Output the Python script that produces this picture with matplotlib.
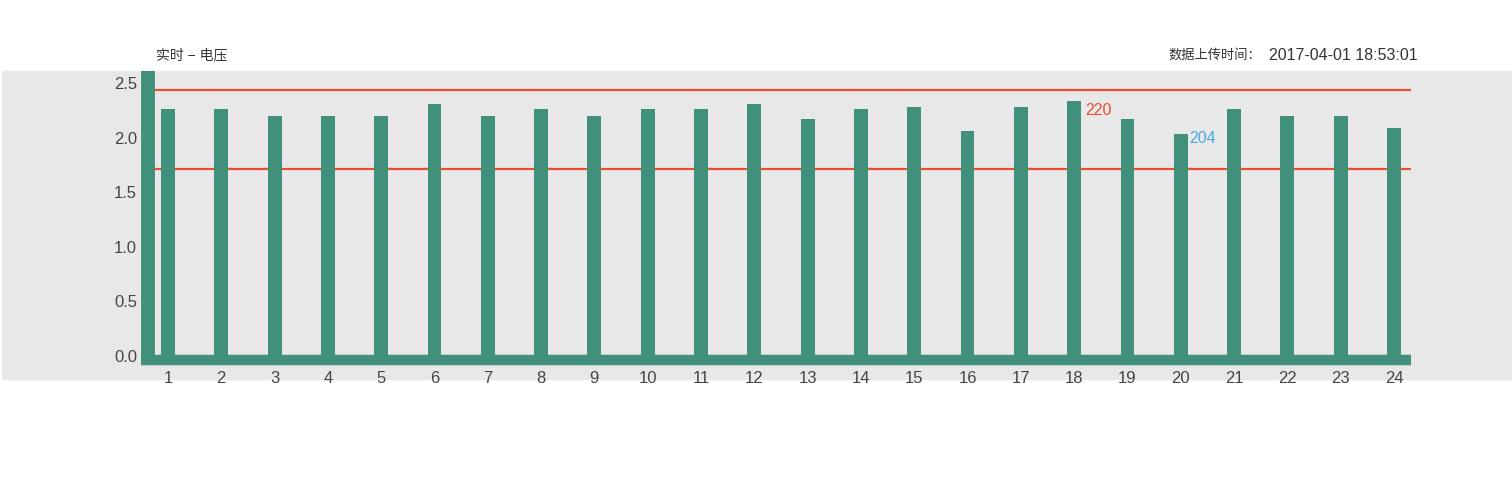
import numpy as np
import matplotlib.pyplot as plt
from matplotlib.patches import Rectangle

plt.rcParams['font.family'] = ['Liberation Sans', 'Noto Sans CJK SC', 'DejaVu Sans']

# data
hours = list(range(1, 25))
voltage = [2.25, 2.25, 2.19, 2.19, 2.19, 2.30, 2.19, 2.25, 2.19, 2.25, 2.25, 2.30,
           2.16, 2.25, 2.27, 2.05, 2.27, 2.33, 2.16, 2.02, 2.25, 2.19, 2.19, 2.08]
upper_limit = 2.43
lower_limit = 1.70
max_label = '220'
min_label = '204'
title = '实时 − 电压'
upload_label = '数据上传时间：'
upload_time = '2017-04-01 18:53:01'

green = '#41907b'
red = '#e8502d'
blue = '#4aa8e0'
txt = '#444444'

W, H = 1512, 489
fig = plt.figure(figsize=(W / 100, H / 100), dpi=100)
# grey band behind the chart
fig.patches.append(Rectangle((2 / W, 1 - 380 / H), 1 - 2 / W, 308 / H,
                             transform=fig.transFigure, color='#e8e8e8', zorder=-5))

ax = fig.add_axes([148 / W, 1 - 361 / H, (1411 - 148) / W, (361 - 72) / H])
ax.set_zorder(2)
ax.patch.set_alpha(0)

ax.bar(hours, voltage, width=0.26, color=green, zorder=3)
ax.axhline(upper_limit, color=red, lw=1.6, zorder=2)
ax.axhline(lower_limit, color=red, lw=1.6, zorder=2)

i_max = int(np.argmax(voltage))
i_min = int(np.argmin(voltage))
ax.annotate(max_label, (hours[i_max], voltage[i_max]), xytext=(11, -9),
            textcoords='offset pixels', color=red, fontsize=11.5, va='center')
ax.annotate(min_label, (hours[i_min], voltage[i_min]), xytext=(9, -3),
            textcoords='offset pixels', color=blue, fontsize=11.5, va='center')

ax.set_xlim(0.625, 24.32)
ax.set_ylim(-0.045, 2.60)
ax.set_xticks(hours)
ax.set_yticks([0, 0.5, 1.0, 1.5, 2.0, 2.5])
ax.set_yticklabels(['0.0', '0.5', '1.0', '1.5', '2.0', '2.5'])
ax.tick_params(length=0, labelsize=12, colors=txt)
ax.tick_params(axis='x', pad=7)
ax.tick_params(axis='y', pad=8)

for s in ['top', 'right']:
    ax.spines[s].set_visible(False)
ax.spines['left'].set_color(green)
ax.spines['left'].set_linewidth(10)
ax.spines['left'].set_bounds(-0.09, 2.60)
ax.spines['bottom'].set_color(green)
ax.spines['bottom'].set_linewidth(7.5)
ax.spines['bottom'].set_bounds(0.5, 24.32)
ax.spines['left'].set_capstyle('butt')
ax.spines['bottom'].set_capstyle('butt')

fig.text(156 / W, 1 - 55 / H, title, fontsize=10, color='#333333', va='center')
fig.text(1168 / W, 1 - 55 / H, upload_label, fontsize=9.5, color='#333333', va='center')
fig.text(1418 / W, 1 - 55 / H, upload_time, fontsize=11.5, color='#333333',
         va='center', ha='right')

fig.savefig('out.png', dpi=100)
